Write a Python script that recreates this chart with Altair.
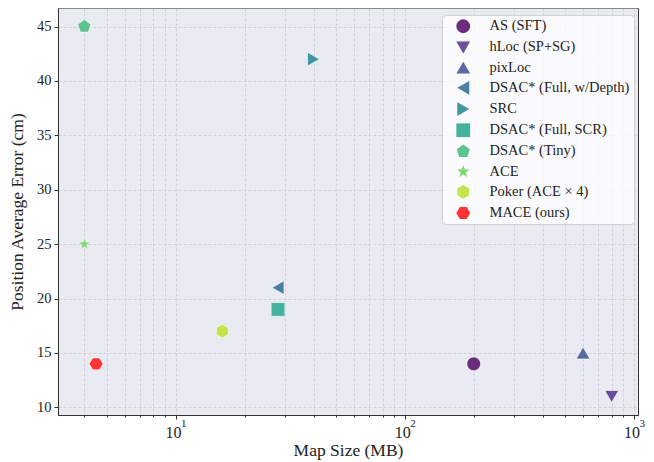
import math
import altair as alt
import pandas as pd

methods = ["AS (SFT)", "hLoc (SP+SG)", "pixLoc", "DSAC* (Full, w/Depth)", "SRC",
           "DSAC* (Full, SCR)", "DSAC* (Tiny)", "ACE", "Poker (ACE × 4)", "MACE (ours)"]
map_size = [200, 800, 600, 28, 40, 28, 4, 4, 16, 4.5]
pos_err = [14, 11, 15, 21, 42, 19, 45, 25, 17, 14]
colors = ["#6b2c7d", "#6a4e9c", "#5a68a2", "#4d7fa3", "#4096a3",
          "#47b1a0", "#5cc48e", "#84d57a", "#c3e34f", "#ff3333"]

x_major = [10, 100, 1000]
x_major_base = ["10", "10", "10"]
x_major_exp = ["1", "2", "3"]
x_minor = [4, 5, 6, 7, 8, 9, 20, 30, 40, 50, 60, 70, 80, 90,
           200, 300, 400, 500, 600, 700, 800, 900]
y_ticks = [10, 15, 20, 25, 30, 35, 40, 45]

H = 407
W = 580


def poly(pts):
    return "M" + " L".join(f"{x:.3f},{y:.3f}" for x, y in pts) + " Z"


pentagon = poly([(math.cos(math.radians(-90 + 72 * i)), math.sin(math.radians(-90 + 72 * i))) for i in range(5)])
hex_pointy = poly([(math.cos(math.radians(-90 + 60 * i)), math.sin(math.radians(-90 + 60 * i))) for i in range(6)])
hex_flat = poly([(math.cos(math.radians(60 * i)), math.sin(math.radians(60 * i))) for i in range(6)])
star_pts = []
for i in range(10):
    r = 0.95 if i % 2 == 0 else 0.38
    a = math.radians(-90 + 36 * i)
    star_pts.append((r * math.cos(a), r * math.sin(a)))
star = poly(star_pts)

shapes = ["circle", "triangle-down", "triangle-up", "triangle-left", "triangle-right",
          "square", pentagon, star, hex_pointy, hex_flat]

df = pd.DataFrame({"method": methods, "size": map_size, "err": pos_err})
df_lab = pd.DataFrame({"size": x_major, "base": x_major_base, "exp": x_major_exp})

FONT = "Liberation Serif"
xscale = alt.Scale(type="log", domain=[3.07, 1042], nice=False)
yscale = alt.Scale(domain=[9.3, 46.7], nice=False, zero=False)

grid_style = dict(grid=True, gridColor="#c9c9cf", gridDash=[3, 2], gridWidth=0.8)

minor = alt.Chart(df).mark_point(opacity=0).encode(
    x=alt.X("size:Q", scale=xscale,
            axis=alt.Axis(orient="bottom", values=x_minor, labels=False, title=None,
                          tickSize=2, tickColor="#333333", domain=False, **grid_style)),
    y=alt.Y("err:Q", scale=yscale,
            axis=alt.Axis(values=y_ticks, title="Position Average Error (cm)",
                          tickSize=4, tickColor="#333333", domainColor="#333333",
                          labelFont=FONT, labelFontSize=14.5, labelColor="#222222",
                          titleFont=FONT, titleFontSize=17.5, titleFontWeight="normal",
                          titleColor="#222222", titlePadding=10, labelPadding=3,
                          **grid_style)),
)

points = alt.Chart(df).mark_point(filled=True, opacity=1, size=190,
                                  stroke="white", strokeWidth=0.6).encode(
    x=alt.X("size:Q", scale=xscale,
            axis=alt.Axis(orient="bottom", values=x_major, labels=False,
                          title="Map Size (MB)", tickSize=4, tickColor="#333333",
                          domainColor="#333333",
                          titleFont=FONT, titleFontSize=17.5, titleFontWeight="normal",
                          titleColor="#222222", titlePadding=22,
                          **grid_style)),
    y=alt.Y("err:Q", scale=yscale),
    color=alt.Color("method:N", sort=methods,
                    scale=alt.Scale(domain=methods, range=colors), title=None),
    shape=alt.Shape("method:N", sort=methods,
                    scale=alt.Scale(domain=methods, range=shapes), title=None),
)

base_lab = alt.Chart(df_lab).mark_text(
    font=FONT, fontSize=16, color="#222222", align="center", baseline="alphabetic",
    dx=-2, clip=False,
).encode(x=alt.X("size:Q", scale=xscale), y=alt.value(H + 23), text="base:N")

exp_lab = alt.Chart(df_lab).mark_text(
    font=FONT, fontSize=11, color="#222222", align="left", baseline="alphabetic",
    dx=5.5, clip=False,
).encode(x=alt.X("size:Q", scale=xscale), y=alt.value(H + 12), text="exp:N")

chart = alt.layer(minor, points, base_lab, exp_lab).resolve_axis(x="independent").properties(
    width=W, height=H,
    autosize=alt.AutoSizeParams(type="none"),
    padding={"left": 50, "top": 0, "right": 8, "bottom": 47},
).configure_view(
    fill="#eaeaf2", stroke="#333333", strokeWidth=1,
).configure_legend(
    orient="none", legendX=384, legendY=7,
    fillColor="rgba(255,255,255,0.8)", strokeColor="#d0d0d0", cornerRadius=4,
    padding=4, symbolOffset=10, labelFont=FONT, labelFontSize=14.5, labelColor="#222222",
    symbolSize=190, rowPadding=5.2, labelOffset=19, labelLimit=300,
    symbolStrokeWidth=0,
)

chart.save("out.html", embed_options={"renderer": "svg", "actions": False})
